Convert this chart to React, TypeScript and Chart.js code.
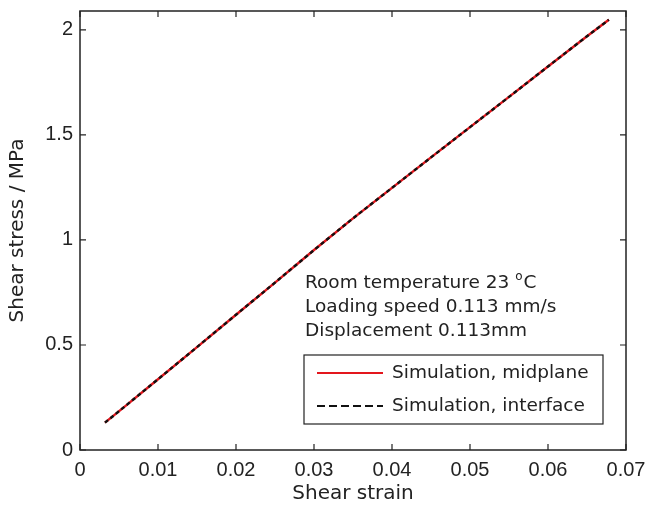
import React, { useEffect, useRef } from "react";
import { Chart, registerables } from "chart.js";

Chart.register(...registerables);

const strain = [0.0032, 0.006, 0.01, 0.015, 0.02, 0.025, 0.03, 0.035, 0.04, 0.045, 0.05, 0.055, 0.06, 0.065, 0.0678];
const stressMidplane = [0.13, 0.215, 0.337, 0.49, 0.644, 0.797, 0.952, 1.103, 1.248, 1.393, 1.537, 1.681, 1.826, 1.97, 2.048];
const stressInterface = [0.13, 0.215, 0.337, 0.49, 0.644, 0.797, 0.952, 1.103, 1.248, 1.393, 1.537, 1.681, 1.826, 1.97, 2.048];
const xTicks = [0, 0.01, 0.02, 0.03, 0.04, 0.05, 0.06, 0.07];
const xTickLabels = ["0", "0.01", "0.02", "0.03", "0.04", "0.05", "0.06", "0.07"];
const yTicks = [0, 0.5, 1, 1.5, 2];
const yTickLabels = ["0", "0.5", "1", "1.5", "2"];
const seriesLabels = ["Simulation, midplane", "Simulation, interface"];
const noteLines = ["Room temperature 23 ", "Loading speed 0.113 mm/s", "Displacement 0.113mm"];

const TICK_FONT = "Liberation Sans, Arial, sans-serif";
const FONT = "DejaVu Sans, sans-serif";
const TEXT = "#222";

const framePlugin = {
  id: "frameAndNotes",
  afterDraw(chart: any) {
    const { ctx, chartArea: a, scales } = chart;
    const xs = scales.x;
    const ys = scales.y;
    ctx.save();
    ctx.strokeStyle = "#222";
    ctx.lineWidth = 1.5;
    ctx.strokeRect(a.left, a.top, a.right - a.left, a.bottom - a.top);
    const tl = 6;
    ctx.lineWidth = 1.2;
    ctx.beginPath();
    xTicks.forEach((v) => {
      const px = xs.getPixelForValue(v);
      ctx.moveTo(px, a.bottom);
      ctx.lineTo(px, a.bottom - tl);
      ctx.moveTo(px, a.top);
      ctx.lineTo(px, a.top + tl);
    });
    yTicks.forEach((v) => {
      const py = ys.getPixelForValue(v);
      ctx.moveTo(a.left, py);
      ctx.lineTo(a.left + tl, py);
      ctx.moveTo(a.right, py);
      ctx.lineTo(a.right - tl, py);
    });
    ctx.stroke();

    const tx = 305;
    const fs = 18.5;
    ctx.fillStyle = TEXT;
    ctx.font = `${fs}px ${FONT}`;
    ctx.textBaseline = "middle";
    ctx.textAlign = "left";
    const lineY = [283, 307, 331];
    noteLines.forEach((t, i) => {
      ctx.fillText(t, tx, lineY[i]);
    });
    const w0 = ctx.measureText(noteLines[0]).width;
    ctx.font = `12px ${FONT}`;
    ctx.fillText("o", tx + w0, lineY[0] - 6);
    const wo = ctx.measureText("o").width;
    ctx.font = `${fs}px ${FONT}`;
    ctx.fillText("C", tx + w0 + wo + 1, lineY[0]);

    const bx = 304, by = 355, bw = 299, bh = 69;
    ctx.fillStyle = "#fff";
    ctx.fillRect(bx, by, bw, bh);
    ctx.strokeStyle = "#222";
    ctx.lineWidth = 1.2;
    ctx.strokeRect(bx, by, bw, bh);
    const rows = [373, 406];
    const ds = chart.data.datasets;
    rows.forEach((ry, i) => {
      ctx.beginPath();
      ctx.strokeStyle = ds[i].borderColor;
      ctx.lineWidth = 2.2;
      ctx.setLineDash(i === 1 ? [8, 4] : []);
      ctx.moveTo(317, ry);
      ctx.lineTo(383, ry);
      ctx.stroke();
      ctx.setLineDash([]);
      ctx.fillStyle = TEXT;
      ctx.font = `${fs}px ${FONT}`;
      ctx.fillText(ds[i].label, 392, ry);
    });
    ctx.restore();
  },
};

export default function App() {
  const ref = useRef<HTMLCanvasElement | null>(null);
  useEffect(() => {
    document.body.style.margin = "0";
    const canvas = ref.current!;
    const chart = new Chart(canvas, {
      type: "line",
      data: {
        datasets: [
          {
            label: seriesLabels[0],
            data: strain.map((x, i) => ({ x, y: stressMidplane[i] })),
            borderColor: "#e3161d",
            borderWidth: 2.4,
            pointRadius: 0,
            tension: 0,
            order: 2,
          },
          {
            label: seriesLabels[1],
            data: strain.map((x, i) => ({ x, y: stressInterface[i] })),
            borderColor: "#111",
            borderWidth: 2.4,
            borderDash: [4, 3],
            pointRadius: 0,
            tension: 0,
            order: 1,
          },
        ],
      },
      options: {
        animation: false,
        responsive: false,
        devicePixelRatio: 1,
        layout: { padding: { top: 11, right: 21, left: 0, bottom: 0 } },
        plugins: { legend: { display: false }, tooltip: { enabled: false } },
        scales: {
          x: {
            type: "linear",
            min: 0,
            max: 0.07,
            grid: { display: false, drawTicks: false },
            border: { display: false },
            afterBuildTicks: (s: any) => {
              s.ticks = xTicks.map((v) => ({ value: v }));
            },
            afterFit: (s: any) => {
              s.height = 57;
              s.paddingLeft = 0;
              s.paddingRight = 0;
            },
            ticks: {
              padding: 8,
              color: TEXT,
              font: { family: TICK_FONT, size: 20 },
              maxRotation: 0,
              callback: (_v: any, i: number) => xTickLabels[i],
            },
            title: {
              display: true,
              text: "Shear strain",
              color: TEXT,
              font: { family: FONT, size: 20 },
              padding: { top: 0, bottom: 1 },
            },
          },
          y: {
            type: "linear",
            min: 0,
            max: 2.09,
            grid: { display: false, drawTicks: false },
            border: { display: false },
            afterBuildTicks: (s: any) => {
              s.ticks = yTicks.map((v) => ({ value: v }));
            },
            afterFit: (s: any) => {
              s.width = 80;
              s.paddingTop = 0;
              s.paddingBottom = 0;
            },
            ticks: {
              padding: 7,
              color: TEXT,
              font: { family: TICK_FONT, size: 20 },
              callback: (_v: any, i: number) => yTickLabels[i],
            },
            title: {
              display: true,
              text: "Shear stress / MPa",
              color: TEXT,
              font: { family: FONT, size: 20 },
              padding: { top: 6, bottom: 0 },
            },
          },
        },
      },
      plugins: [framePlugin],
    } as any);
    return () => chart.destroy();
  }, []);
  return <canvas ref={ref} width={647} height={507} style={{ display: "block" }} />;
}
